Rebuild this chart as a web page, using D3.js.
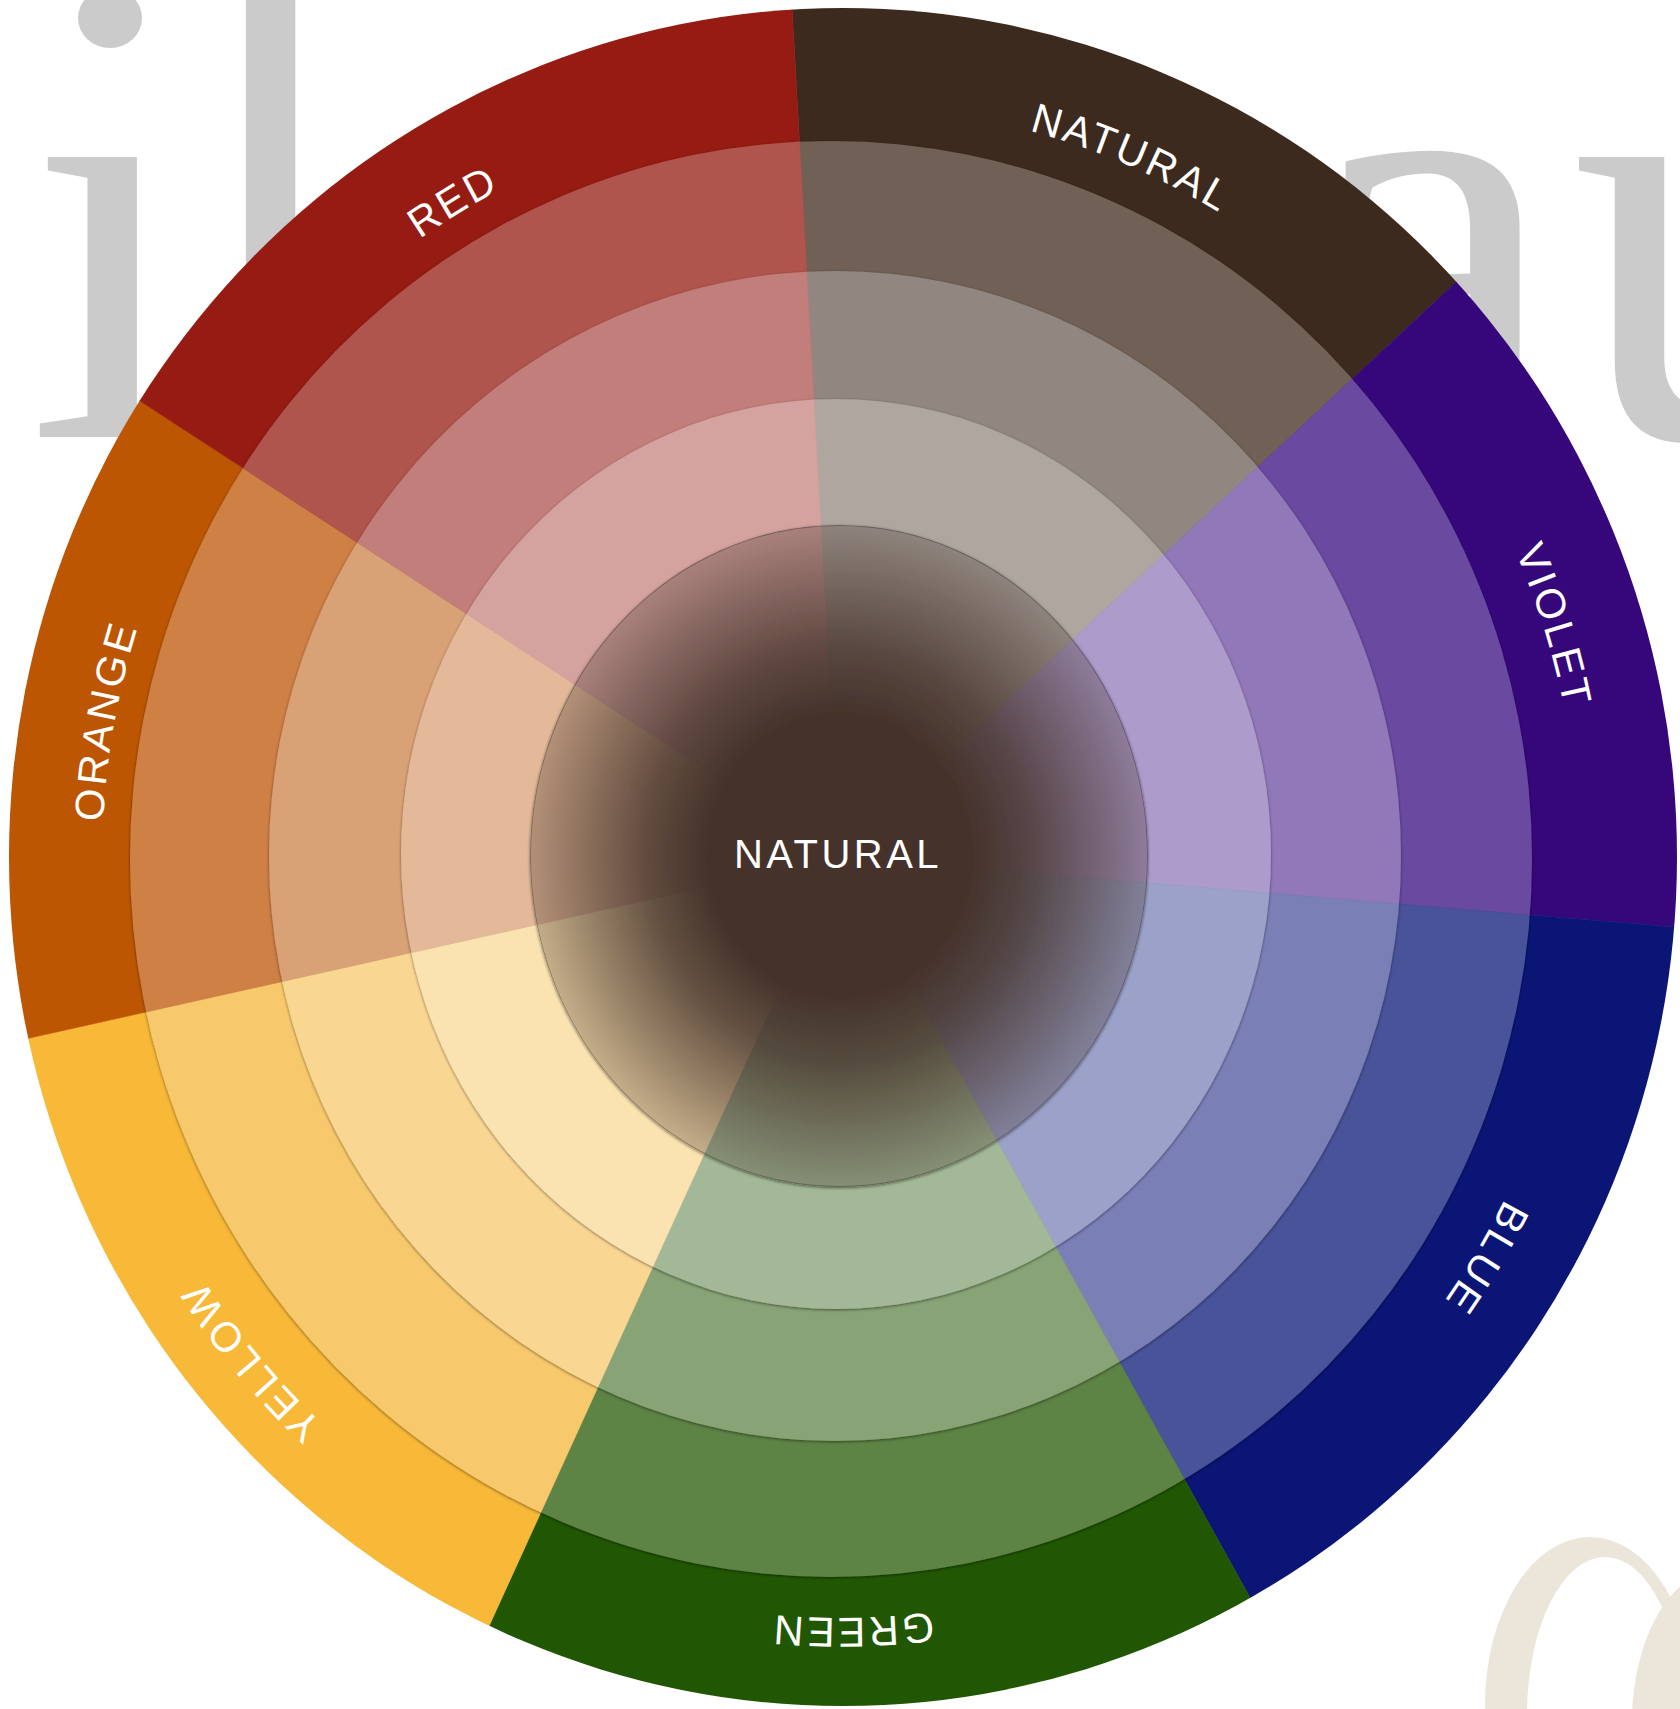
<!DOCTYPE html>
<html>
<head>
<meta charset="utf-8">
<script src="https://cdn.jsdelivr.net/npm/d3@7"></script>
<style>
  html, body { margin: 0; padding: 0; background: #fff; }
  svg { display: block; }
</style>
</head>
<body>
<svg id="wheel" width="1680" height="1709"></svg>
<script>
// sectors, clockwise from the top
var categories = ["NATURAL", "VIOLET", "BLUE", "GREEN", "YELLOW", "ORANGE", "RED"];
var spans = [50.2, 47.8, 56.2, 53.5, 52.9, 45.7, 53.7]; // degrees of the wheel
var startDeg = -3.2;
var centerLabel = "NATURAL";

// shades per sector, outer band -> innermost ring
var shades = {
    NATURAL: ["#3c2a1e", "#6f6156", "#918780", "#afa6a0"],
    VIOLET:  ["#36077b", "#6a4aa0", "#9178b8", "#ad9bcb"],
    BLUE:    ["#0b1576", "#48529a", "#7a80b6", "#9ba1c8"],
    GREEN:   ["#215703", "#5d8345", "#88a374", "#a2b896"],
    YELLOW:  ["#f8b838", "#f8c96c", "#fad693", "#fbe2b1"],
    ORANGE:  ["#bc5603", "#ce8045", "#d9a276", "#e3b999"],
    RED:     ["#961b12", "#b0554e", "#c27e7a", "#d4a3a0"]
};

// labels don't sit exactly on the sector middle: nudge in degrees / px outward
var labelNudge = [1.15, 1.5, -1.6, 1.25, -1.0, 0, -1];
var labelPush = [0, 2, 8, 9, 22, 0, 0];

// ring outlines (the picture is a little taller than wide)
var rings = [
    { cx: 843, cy: 857, rx: 834, ry: 849 },
    { cx: 831, cy: 859, rx: 701, ry: 718 },
    { cx: 835, cy: 856, rx: 566, ry: 585 },
    { cx: 836, cy: 854, rx: 435, ry: 455 },
    { cx: 839, cy: 856, rx: 309, ry: 331 }
];
var cx = 839.5, cy = 857;

var data = categories.map(function (c, i) {
    return { name: c, span: spans[i], nudge: labelNudge[i], push: labelPush[i] };
});

var svg = d3.select("#wheel");
var defs = svg.append("defs");

// background lettering
var bg = svg.append("g")
    .attr("fill", "#cbcbcb")
    .style("font-family", "'Liberation Serif', 'DejaVu Serif', serif")
    .style("font-size", "610px");
bg.append("text").attr("x", 27).attr("y", 437).text("\u0131");
bg.append("ellipse").attr("cx", 110).attr("cy", 18).attr("rx", 32).attr("ry", 30);
bg.append("text").attr("x", 186).attr("y", 377).text("l");
bg.append("text").attr("x", 1292).attr("y", 437).text("a");
bg.append("text").attr("x", 1571).attr("y", 437).text("u");

// beige swirl bottom right
var swirl = svg.append("g").attr("fill", "#ece5da");
swirl.append("path")
    .attr("fill-rule", "evenodd")
    .attr("d", "M1485,1705 a105,168 0 1,0 210,0 a105,168 0 1,0 -210,0 Z" +
               "M1527,1715 a78,158 0 1,0 156,0 a78,158 0 1,0 -156,0 Z");
swirl.append("ellipse").attr("cx", 1720).attr("cy", 1722).attr("rx", 88).attr("ry", 152);

defs.append("filter")
    .attr("id", "edge")
    .attr("x", "-5%").attr("y", "-5%").attr("width", "110%").attr("height", "110%")
    .append("feDropShadow")
    .attr("dx", 0).attr("dy", 1)
    .attr("stdDeviation", 1.6)
    .attr("flood-color", "#000")
    .attr("flood-opacity", 0.5);

var grad = defs.append("radialGradient").attr("id", "core");
grad.append("stop").attr("offset", "0%").attr("stop-color", "#44322a").attr("stop-opacity", 1);
grad.append("stop").attr("offset", "42%").attr("stop-color", "#44322a").attr("stop-opacity", 1);
grad.append("stop").attr("offset", "62%").attr("stop-color", "#44322a").attr("stop-opacity", 0.82);
grad.append("stop").attr("offset", "82%").attr("stop-color", "#44322a").attr("stop-opacity", 0.55);
grad.append("stop").attr("offset", "100%").attr("stop-color", "#44322a").attr("stop-opacity", 0.3);

var pie = d3.pie()
    .sort(null)
    .value(function (d) { return d.span; })
    .startAngle(startDeg * Math.PI / 180)
    .endAngle(startDeg * Math.PI / 180 + 2 * Math.PI);

var arc = d3.arc().innerRadius(0).outerRadius(900);
var slices = pie(data);

rings.forEach(function (r, i) {
    defs.append("clipPath").attr("id", "ring" + i)
        .append("ellipse")
        .attr("cx", r.cx).attr("cy", r.cy).attr("rx", r.rx).attr("ry", r.ry);

    var layer = svg.append("g").attr("class", "layer");
    if (i > 0) layer.attr("filter", "url(#edge)");

    var clip = layer.append("g").attr("clip-path", "url(#ring" + i + ")");
    var shadeIdx = Math.min(i, 3);

    clip.append("g")
        .attr("transform", "translate(" + cx + "," + cy + ")")
        .selectAll("path")
        .data(slices)
        .enter().append("path")
        .attr("d", arc)
        .attr("fill", function (d) { return shades[d.data.name][shadeIdx]; })
        .attr("stroke", function (d) { return shades[d.data.name][shadeIdx]; })
        .attr("stroke-width", 0.6);

    if (i == 4) {
        clip.append("ellipse")
            .attr("cx", r.cx).attr("cy", r.cy).attr("rx", r.rx).attr("ry", r.ry)
            .attr("fill", "url(#core)")
            .attr("stroke", "rgba(40,30,30,0.35)")
            .attr("stroke-width", 2);
    }
});

// curved labels on the outer band, one circle path per label
var labelR = 737;
var lab = svg.append("g")
    .attr("transform", "translate(" + cx + "," + cy + ") scale(1,1.02)");

function circlePath(r) {
    return "M0," + (-r) + " A" + r + "," + r + " 0 1,1 0," + r +
           " A" + r + "," + r + " 0 1,1 0," + (-r);
}

lab.selectAll("path.guide")
    .data(slices)
    .enter().append("path")
    .attr("class", "guide")
    .attr("id", function (d, i) { return "labelPath" + i; })
    .attr("fill", "none")
    .attr("d", function (d) { return circlePath(labelR + d.data.push); });

lab.selectAll("text")
    .data(slices)
    .enter().append("text")
    .attr("fill", "#fff")
    .style("font-family", "'Liberation Sans', Arial, sans-serif")
    .style("font-size", "41px")
    .style("letter-spacing", "3px")
    .append("textPath")
    .attr("href", function (d, i) { return "#labelPath" + i; })
    .attr("text-anchor", "middle")
    .attr("startOffset", function (d) {
        var a = (d.startAngle + d.endAngle) / 2 + d.data.nudge * Math.PI / 180;
        if (a < 0) a += 2 * Math.PI;
        return a * (labelR + d.data.push);
    })
    .text(function (d) { return d.data.name; });

svg.append("text")
    .attr("x", 838)
    .attr("y", 868)
    .attr("text-anchor", "middle")
    .attr("fill", "#fff")
    .style("font-family", "'Liberation Sans', Arial, sans-serif")
    .style("font-size", "40px")
    .style("letter-spacing", "3.5px")
    .text(centerLabel);
</script>
</body>
</html>
